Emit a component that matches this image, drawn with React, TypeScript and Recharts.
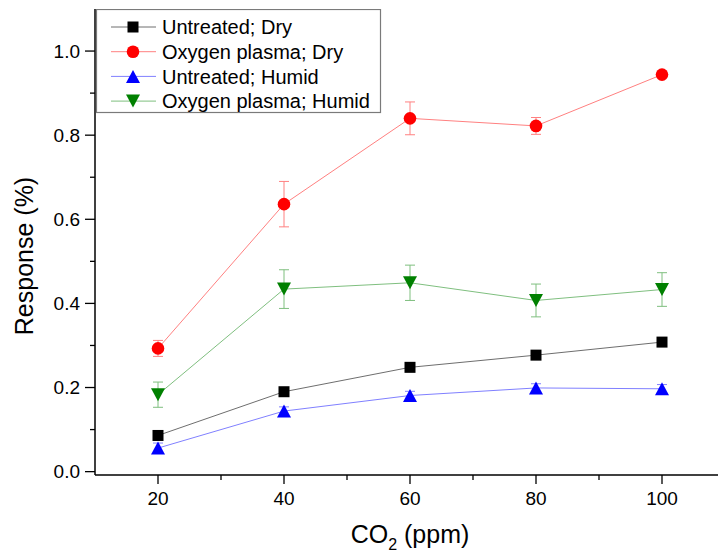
import React from 'react';
import { LineChart, Line, XAxis, YAxis, ErrorBar, Legend } from 'recharts';

// CO2 concentration (ppm)
const co2 = [20, 40, 60, 80, 100];

// sensor response (%) with standard deviation
const untreatedDry = [0.086, 0.19, 0.248, 0.277, 0.308];
const untreatedDryErr = [0.006, 0.006, 0.006, 0.006, 0.006];
const plasmaDry = [0.293, 0.636, 0.84, 0.822, 0.944];
const plasmaDryErr = [0.019, 0.054, 0.039, 0.02, 0.006];
const untreatedHumid = [0.056, 0.144, 0.181, 0.199, 0.197];
const untreatedHumidErr = [0.012, 0.01, 0.01, 0.01, 0.01];
const plasmaHumid = [0.183, 0.434, 0.449, 0.407, 0.433];
const plasmaHumidErr = [0.03, 0.046, 0.042, 0.039, 0.04];

const xTicks = [20, 30, 40, 50, 60, 70, 80, 90, 100];
const yTicks = [0, 0.1, 0.2, 0.3, 0.4, 0.5, 0.6, 0.7, 0.8, 0.9, 1.0];

const data = co2.map((c, i) => ({
  co2: c,
  untreatedDry: untreatedDry[i],
  untreatedDryErr: untreatedDryErr[i],
  plasmaDry: plasmaDry[i],
  plasmaDryErr: plasmaDryErr[i],
  untreatedHumid: untreatedHumid[i],
  untreatedHumidErr: untreatedHumidErr[i],
  plasmaHumid: plasmaHumid[i],
  plasmaHumidErr: plasmaHumidErr[i],
}));

const FONT = '"Liberation Sans", Arial, sans-serif';

type Shape = 'square' | 'circle' | 'up' | 'down';

const Marker = ({ cx, cy, shape, fill }: { cx: number; cy: number; shape: Shape; fill: string }) => {
  if (shape === 'square') return <rect x={cx - 5.5} y={cy - 5.5} width={11} height={11} fill={fill} />;
  if (shape === 'circle') return <circle cx={cx} cy={cy} r={6.3} fill={fill} />;
  if (shape === 'up')
    return <polygon points={`${cx},${cy - 6.5} ${cx - 7},${cy + 6.5} ${cx + 7},${cy + 6.5}`} fill={fill} />;
  return <polygon points={`${cx - 7},${cy - 6.5} ${cx + 7},${cy - 6.5} ${cx},${cy + 6.5}`} fill={fill} />;
};

const series = [
  { key: 'untreatedDry', name: 'Untreated; Dry', shape: 'square' as Shape, fill: '#000000', line: '#6e6e6e' },
  { key: 'plasmaDry', name: 'Oxygen plasma; Dry', shape: 'circle' as Shape, fill: '#ff0000', line: '#ff8080' },
  { key: 'untreatedHumid', name: 'Untreated; Humid', shape: 'up' as Shape, fill: '#0000ff', line: '#8080ff' },
  { key: 'plasmaHumid', name: 'Oxygen plasma; Humid', shape: 'down' as Shape, fill: '#008000', line: '#7fbf7f' },
];

const YTick = (props: any) => {
  const { x, y, payload } = props;
  const v = payload.value as number;
  const major = Math.round(v * 10) % 2 === 0;
  return (
    <g>
      <line x1={x} x2={x - (major ? 10 : 5)} y1={y} y2={y} stroke="#000" strokeWidth={1.3} />
      {major && (
        <text x={x - 15} y={y} dy="0.36em" textAnchor="end" fontSize={19} fontFamily={FONT} fill="#000">
          {v.toFixed(1)}
        </text>
      )}
    </g>
  );
};

const XTick = (props: any) => {
  const { x, y, payload } = props;
  const v = payload.value as number;
  const major = v % 20 === 0;
  return (
    <g>
      <line x1={x} x2={x} y1={y} y2={y + (major ? 9 : 5)} stroke="#000" strokeWidth={1.3} />
      {major && (
        <text x={x} y={y + 23} dy="0.36em" textAnchor="middle" fontSize={19} fontFamily={FONT} fill="#000">
          {v}
        </text>
      )}
    </g>
  );
};

const XTitle = (props: any) => {
  const vb = props.viewBox ?? { x: 95, y: 475, width: 630 };
  return (
    <text x={vb.x + vb.width / 2} y={vb.y + 68} textAnchor="middle" fontSize={25} fontFamily={FONT} fill="#000">
      CO<tspan fontSize={16} dy={7}>2</tspan>
      <tspan dy={-7}> (ppm)</tspan>
    </text>
  );
};

const YTitle = () => (
  <text
    transform="translate(33,256) rotate(-90)"
    textAnchor="middle"
    fontSize={25}
    fontFamily={FONT}
    fill="#000"
  >
    Response (%)
  </text>
);

const LegendBox = () => (
  <svg width={286} height={105} style={{ display: 'block' }}>
    <rect x={0.5} y={0.5} width={284} height={103} fill="#fff" stroke="#7a7a7a" strokeWidth={1.2} />
    {series.map((s, i) => {
      const cy = 18 + i * 24.7;
      return (
        <g key={s.key}>
          <line x1={15} x2={60} y1={cy} y2={cy} stroke={s.line} strokeWidth={1} />
          <Marker cx={37} cy={cy} shape={s.shape} fill={s.fill} />
          <text x={66} y={cy} dy="0.36em" fontSize={20} fontFamily={FONT} fill="#000">
            {s.name}
          </text>
        </g>
      );
    })}
  </svg>
);

export default function App() {
  return (
    <div style={{ position: 'absolute', left: 0, top: 0, width: 718, height: 553, overflow: 'hidden', background: '#fff' }}>
      <LineChart width={740} height={553} data={data} margin={{ top: 9, right: 15, bottom: 0, left: 0 }}>
        <XAxis
          dataKey="co2"
          type="number"
          domain={[10, 110]}
          ticks={xTicks}
          interval={0}
          tickSize={0}
          tickMargin={0}
          tick={<XTick />}
          height={78}
          axisLine={{ stroke: '#000', strokeWidth: 1.5 }}
          label={<XTitle />}
        />
        <XAxis
          xAxisId="top"
          orientation="top"
          dataKey="co2"
          type="number"
          domain={[10, 110]}
          tick={false}
          tickLine={false}
          height={0}
          axisLine={{ stroke: '#000', strokeWidth: 1.5 }}
        />
        <YAxis
          type="number"
          domain={[-0.008, 1.1]}
          ticks={yTicks}
          interval={0}
          tickSize={0}
          tickMargin={0}
          tick={<YTick />}
          width={95}
          axisLine={{ stroke: '#000', strokeWidth: 1.5 }}
          label={<YTitle />}
        />
        <Legend
          layout="vertical"
          align="center"
          verticalAlign="middle"
          content={() => <LegendBox />}
          wrapperStyle={{ position: 'absolute', top: 9, left: 96, width: 286, height: 105 }}
        />
        {series.map((s) => (
          <Line
            key={s.key}
            type="linear"
            dataKey={s.key}
            name={s.name}
            stroke={s.line}
            strokeWidth={1}
            isAnimationActive={false}
            activeDot={false}
            dot={(p: any) => <Marker key={p.index} cx={p.cx} cy={p.cy} shape={s.shape} fill={s.fill} />}
          >
            <ErrorBar
              dataKey={`${s.key}Err`}
              direction="y"
              width={5}
              stroke={s.line}
              strokeWidth={1}
              isAnimationActive={false}
            />
          </Line>
        ))}
      </LineChart>
    </div>
  );
}
